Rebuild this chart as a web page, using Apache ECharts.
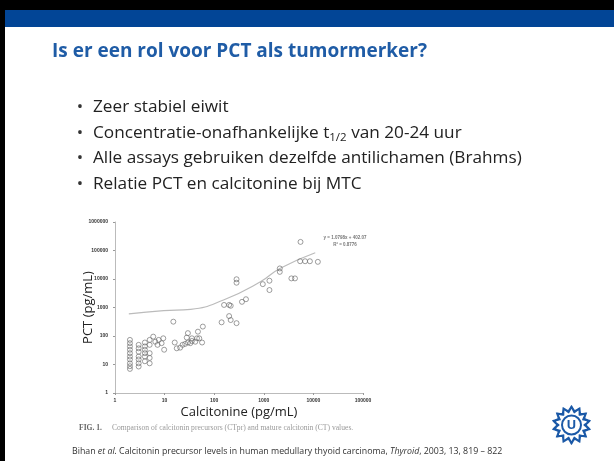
<!DOCTYPE html>
<html><head><meta charset="utf-8">
<script src="https://cdn.jsdelivr.net/npm/echarts@6/dist/echarts.min.js"></script>
<style>html,body{margin:0;padding:0;background:#fff}#c{width:614px;height:461px}</style>
</head><body><div id="c"></div>
<script>
// Scatter data (Calcitonine CT pg/mL vs PCT pg/mL)
const ctValues = [
  2,2,2,2,2,2,2,2,2,2,
  3,3,3,3,3,3,3,
  4,4,4,4,4,4,
  5,5,5,5,5,
  5.9,6.5,7.6,8.7,9.4,7.2,9.8,
  15,16,17.6,20.6,23,26,29.5,33,35.5,41.6,45,28,29.5,35.5,57,47,59,50,
  141,200,215,282,158,200,215,363,437,282,282,955,1300,1300,2100,2100,3600,4250,5500,5400,6800,8500,12300
];
const pctValues = [
  73,56,43,33,25,19,15,11,8.7,7,
  49,37,28,19,15,11,8.5,
  59,43,33,25,19,13,
  73,49,25,17,11,
  95,63,73,56,83,49,33,
  318,59,37,39,49,53,59,56,67,63,83,88,126,83,59,142,214,83,
  302,500,363,282,1230,1230,1150,1580,1950,9800,7400,6600,8700,4100,23500,17800,10500,10500,200000,42000,42000,42000,40000
];
// Trend curve points
const trendCT  = [1.9, 9.6, 33.6, 154, 855, 2150, 10900];
const trendPCT = [593, 773, 865, 1830, 7980, 24000, 83700];
const xTicks = [1, 10, 100, 1000, 10000, 100000];
const yTicks = [1, 10, 100, 1000, 10000, 100000, 1000000];

const title = 'Is er een rol voor PCT als tumormerker?';
const bullets = [
  ['Zeer stabiel eiwit'],
  ['Concentratie-onafhankelijke t', '1/2', ' van 20-24 uur'],
  ['Alle assays gebruiken dezelfde antilichamen (Brahms)'],
  ['Relatie PCT en calcitonine bij MTC']
];
const xName = 'Calcitonine (pg/mL)';
const yName = 'PCT (pg/mL)';
const figCaption = 'Comparison of calcitonin precursors (CTpr) and mature calcitonin (CT) values.';
const equation = ['y = 1.0798x + 402.07', 'R² = 0.8776'];

const scatterData = ctValues.map((v, i) => [v, pctValues[i]]);
const trendData = trendCT.map((v, i) => [v, trendPCT[i]]);

const FONT = '"Open Sans", "Noto Sans", sans-serif';
const graphics = [];
// frame & header bar
graphics.push({type:'rect', shape:{x:0,y:0,width:614,height:10}, style:{fill:'#000'}, z:10});
graphics.push({type:'rect', shape:{x:0,y:0,width:5,height:461}, style:{fill:'#000'}, z:10});
graphics.push({type:'rect', shape:{x:5,y:10,width:609,height:17}, style:{fill:'#024596'}, z:10});
// title
graphics.push({type:'text', x:52, y:52, style:{text:title, font:'bold 19px ' + FONT, fill:'#1f5ca6', textVerticalAlign:'middle'}, z:10});
// bullets
const by = [107, 133, 158.5, 184];
bullets.forEach((b, i) => {
  graphics.push({type:'text', x:80, y:by[i], style:{text:'•', font:'17px ' + FONT, fill:'#333', textVerticalAlign:'middle', textAlign:'center'}, z:10});
  let txt;
  if (b.length === 1) txt = '{m|' + b[0] + '}';
  else txt = '{m|' + b[0] + '}{s|' + b[1] + '}{m|' + b[2] + '}';
  graphics.push({type:'text', x:93, y:by[i], style:{text:txt, textVerticalAlign:'middle',
    rich:{ m:{font:'17.2px ' + FONT, fill:'#222', lineHeight:22, verticalAlign:'middle'},
           s:{font:'11.5px ' + FONT, fill:'#222', lineHeight:22, verticalAlign:'bottom', padding:[9,0,0,0]} }}, z:10});
});
// fig caption
graphics.push({type:'text', x:79, y:428, style:{text:'{b|FIG. 1.}   {n|' + figCaption + '}', textVerticalAlign:'middle',
  rich:{ b:{font:'bold 7.6px "Liberation Serif", serif', fill:'#666'}, n:{font:'7.6px "Liberation Serif", serif', fill:'#999'} }}, z:10});
// citation
graphics.push({type:'text', x:72, y:451, style:{text:'{n|Bihan }{i|et al.}{n| Calcitonin precursor levels in human medullary thyoid carcinoma, }{i|Thyroid}{n|, 2003, 13, 819 – 822}', textVerticalAlign:'middle',
  rich:{ n:{font:'8.8px ' + FONT, fill:'#333'}, i:{font:'italic 8.8px ' + FONT, fill:'#333'} }}, z:10});
// equation
graphics.push({type:'text', x:345, y:238, style:{text:equation[0], font:'bold 4.5px sans-serif', fill:'#777', textAlign:'center', textVerticalAlign:'middle'}, z:10});
graphics.push({type:'text', x:345, y:245, style:{text:equation[1], font:'bold 4.5px sans-serif', fill:'#777', textAlign:'center', textVerticalAlign:'middle'}, z:10});
// logo
(function(){
  const cx = 571.5, cy = 425, n = 14;
  const pts = [], pts2 = [];
  for (let k = 0; k < n * 2; k++) {
    const a = Math.PI * k / n - Math.PI / 2;
    const r = k % 2 === 0 ? 20 : 15.5;
    const r2 = k % 2 === 0 ? 16 : 11.8;
    pts.push([cx + r * Math.cos(a), cy + r * Math.sin(a)]);
    pts2.push([cx + r2 * Math.cos(a), cy + r2 * Math.sin(a)]);
  }
  graphics.push({type:'polygon', shape:{points:pts, smooth:0.15}, style:{fill:'#1b59a7'}, z:10});
  graphics.push({type:'polygon', shape:{points:pts2, smooth:0.15}, style:{fill:'#fff'}, z:11});
  graphics.push({type:'circle', shape:{cx:cx, cy:cy, r:9.5}, style:{fill:'#fff', stroke:'#1b59a7', lineWidth:2}, z:12});
  graphics.push({type:'text', x:cx, y:cy+0.5, style:{text:'U', font:'bold 13px ' + FONT, fill:'#1b59a7', textAlign:'center', textVerticalAlign:'middle'}, z:13});
})();

const chart = echarts.init(document.getElementById('c'), null, {renderer:'canvas'});
const axisCommon = {
  type:'log', logBase:10,
  axisLine:{show:true, lineStyle:{color:'#bbb', width:1}},
  axisTick:{show:true, length:2, lineStyle:{color:'#999'}},
  splitLine:{show:false},
  axisLabel:{fontSize:5, fontWeight:'bold', color:'#333', fontFamily:'sans-serif', formatter:v => String(Math.round(v))},
  nameTextStyle:{fontSize:13, color:'#222', fontFamily:FONT},
  nameMoveOverlap:false
};
chart.setOption({
  animation:false,
  backgroundColor:'#fff',
  grid:{left:115, top:222, width:248, height:171},
  xAxis:Object.assign({}, axisCommon, {min:xTicks[0], max:xTicks[xTicks.length-1], name:xName, nameLocation:'middle', nameGap:13,
    axisLabel:Object.assign({}, axisCommon.axisLabel, {margin:5})}),
  yAxis:Object.assign({}, axisCommon, {min:yTicks[0], max:yTicks[yTicks.length-1], name:yName, nameLocation:'middle', nameGap:20,
    axisLabel:Object.assign({}, axisCommon.axisLabel, {margin:7})}),
  series:[
    {type:'line', data:trendData, smooth:true, showSymbol:false, lineStyle:{color:'#bbb', width:1.2}, z:1},
    {type:'scatter', data:scatterData, symbol:'circle', symbolSize:5,
     itemStyle:{color:'rgba(255,255,255,0)', borderColor:'#666', borderWidth:0.8}, z:2}
  ],
  graphic:graphics
});
</script></body></html>
